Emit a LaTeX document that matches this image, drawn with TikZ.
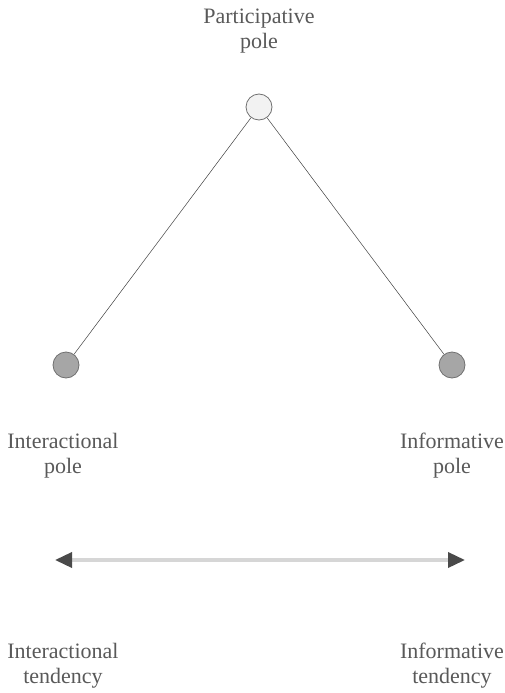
\documentclass[tikz,border=0pt]{standalone}
\usepackage{fontspec}
\setmainfont{Liberation Serif}
\usetikzlibrary{arrows.meta}

\definecolor{labelgrey}{HTML}{595959}
\definecolor{rimgrey}{HTML}{707070}
\definecolor{polefill}{HTML}{A6A6A6}
\definecolor{topfill}{HTML}{F2F2F2}
\definecolor{headgrey}{HTML}{4A4A4A}

\begin{document}
\begin{tikzpicture}[x=1pt,y=-1pt,
        pole/.style={circle, draw=rimgrey, line width=0.8pt, fill=polefill, minimum size=26pt, inner sep=0pt},
        toppole/.style={pole, fill=topfill},
        caption/.style={text=labelgrey, align=center, inner sep=0pt, font=\fontsize{22}{25}\selectfont},
        link/.style={draw=black!75, line width=0.5pt},
        tendency/.style={line width=3.5pt, draw=black!16,
          {Triangle[length=17pt,width=15pt,color=headgrey]}-{Triangle[length=17pt,width=15pt,color=headgrey]}}]
        \useasboundingbox (0,0) rectangle (505,693);
        % the three poles
        \node[toppole] (part) at (259,107) {};
        \node[pole] (inter) at (66,365) {};
        \node[pole] (info) at (452,365) {};
        \draw[link] (part) -- (inter);
        \draw[link] (part) -- (info);
        % labels
        \node[caption] (partlabel) at (259,31) {Participative\\pole};
        \node[caption] (interlabel) at (63,456) {Interactional\\pole};
        \node[caption] (infolabel) at (452,456) {Informative\\pole};
        % tendency axis
        \coordinate (tleft) at (55,560);
        \coordinate (tright) at (465,560);
        \draw[tendency] (tleft) -- (tright);
        \node[caption] (intertend) at (63,666) {Interactional\\tendency};
        \node[caption] (infotend) at (452,666) {Informative\\tendency};
\end{tikzpicture}
\end{document}
